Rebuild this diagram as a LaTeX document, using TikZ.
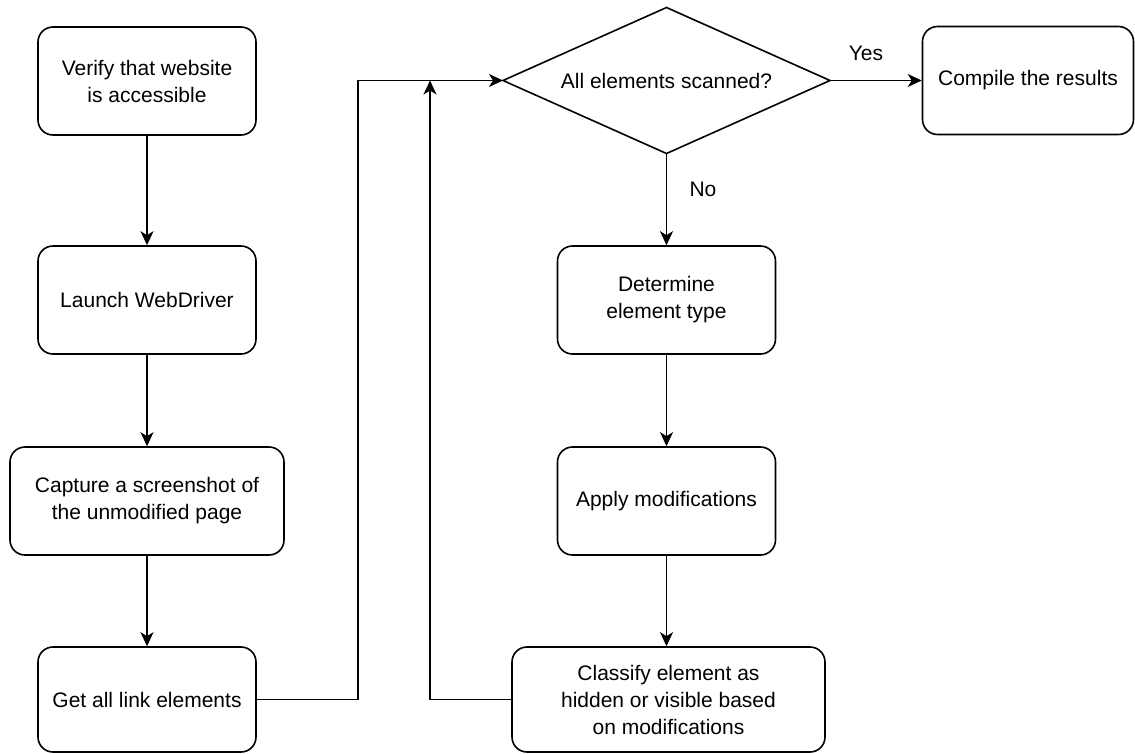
\documentclass[tikz,border=0pt]{standalone}
\usepackage{fontspec}
\setmainfont{Liberation Sans}
\usetikzlibrary{arrows.meta}
\begin{document}
\begin{tikzpicture}[x=1pt,y=-1pt,
  every node/.style={font=\fontsize{21}{27}\selectfont},
  box/.style={draw,line width=1.6pt,rounded corners=15pt,align=center,inner sep=0pt},
  arr/.style={line width=1.6pt,-{Stealth[length=14pt,width=13pt,inset=4pt]}},
  ln/.style={line width=1.6pt,line join=miter}]
\useasboundingbox (0,0) rectangle (1135,753);
\node[box,minimum width=218pt,minimum height=108pt] (b1) at (147,81) {Verify that website\\is accessible};
\node[box,minimum width=218pt,minimum height=108pt] (b2) at (147,300) {Launch WebDriver};
\node[box,minimum width=274pt,minimum height=108pt] (b3) at (147,501) {Capture a screenshot of\\the unmodified page};
\node[box,minimum width=218pt,minimum height=105pt] (b4) at (147,699.5) {Get all link elements};
\node (d) at (666.5,80.5) {All elements scanned?};
\coordinate (dW) at (503,80.5);
\coordinate (dE) at (830,80.5);
\coordinate (dN) at (666.5,7.5);
\coordinate (dS) at (666.5,153.5);
\draw[ln] (dW) -- (dN) -- (dE) -- (dS) -- cycle;
\node[box,minimum width=211pt,minimum height=108pt] (b6) at (1028,80.5) {Compile the results};
\node[box,minimum width=218pt,minimum height=108pt] (b7) at (666.5,300) {Determine\\element type};
\node[box,minimum width=218pt,minimum height=108pt] (b8) at (666.5,501) {Apply modifications};
\node[box,minimum width=313pt,minimum height=105pt] (b9) at (668.5,699.5) {Classify element as\\hidden or visible based\\on modifications};
\coordinate (j) at (430,80.5);
\draw[arr] (b1) -- (b2);
\draw[arr] (b2) -- (b3);
\draw[arr] (b3) -- (b4);
\draw[arr] (b4.east) -- ++(101,0) |- (dW);
\draw[arr] (b9.west) -| (j);
\draw[arr] (dE) -- (b6.west);
\node (yes) at (866,53) {Yes};
\draw[arr] (dS) -- (b7.north);
\node (no) at (703,189) {No};
\draw[arr] (b7) -- (b8);
\draw[arr] (b8.south) -- (b8.south |- b9.north);
\end{tikzpicture}
\end{document}
